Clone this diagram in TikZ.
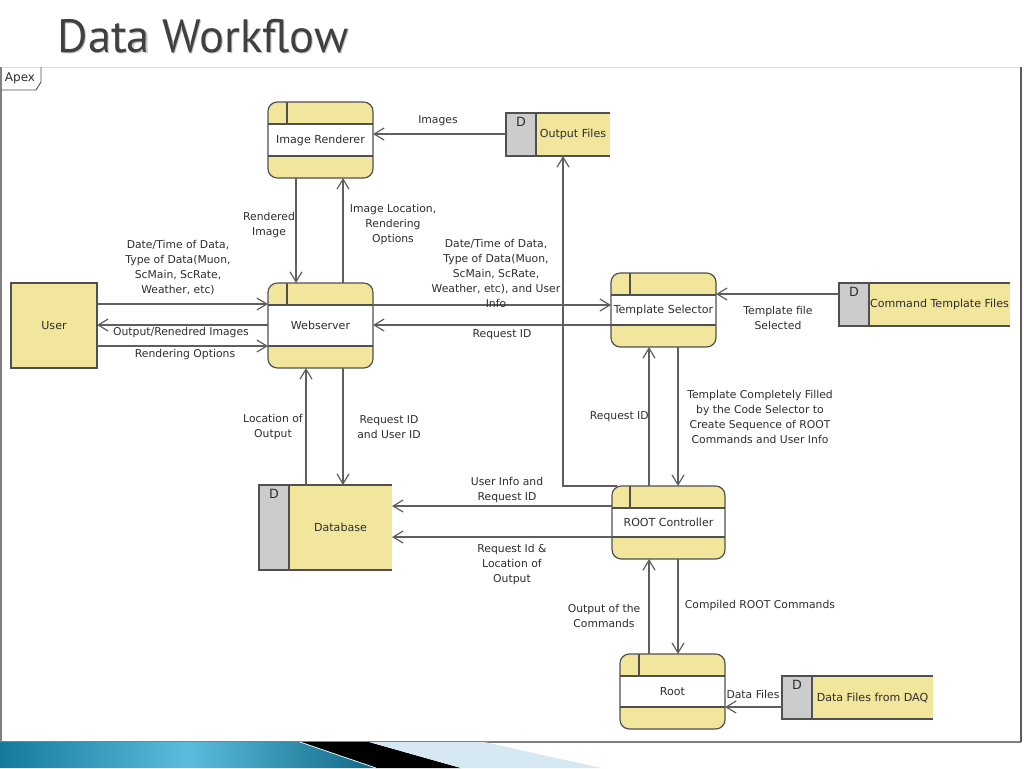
\documentclass[tikz,border=0pt]{standalone}
\usepackage{fontspec}
\setmainfont{DejaVu Sans}
\newfontfamily\titlefont{PT Sans}
\usetikzlibrary{arrows.meta}
\definecolor{yel}{HTML}{F2E59C}
\definecolor{gry}{HTML}{CCCCCC}
\definecolor{bdc}{HTML}{505050}
\definecolor{lnc}{HTML}{5F5F5F}
\definecolor{txc}{HTML}{2E2E2E}
\definecolor{ttc}{HTML}{404040}
\definecolor{teal1}{HTML}{137A9C}
\definecolor{teal2}{HTML}{5CBCDD}
\definecolor{lblue}{HTML}{D6E8F1}

\newcommand\procbox[7]{%
  \fill[yel, rounded corners=7pt] (#2,#3) rectangle (#4,#5);
  \fill[white] (#2,#3+22) rectangle (#4,#5-22);
  \draw[bd] (#2,#3+22) -- (#4,#3+22) (#2,#5-22) -- (#4,#5-22) (#6,#3) -- (#6,#3+22);
  \draw[bd, rounded corners=7pt] (#2,#3) rectangle (#4,#5);
  \node[box, ntxt, minimum width={(#4-#2)*0.75pt}, minimum height={(#5-#3)*0.75pt}] (#1) at ({(#2+#4)/2},{(#3+#5)/2}) {#7};
}
\newcommand\storebox[6]{%
  \fill[yel] (#2,#3) rectangle (#4,#5);
  \fill[gry] (#2,#3) rectangle (#2+30,#5);
  \draw[bd] (#4,#3) -- (#2,#3) -- (#2,#5) -- (#4,#5) (#2+30,#3) -- (#2+30,#5);
  \node[box, minimum width={(#4-#2)*0.75pt}, minimum height={(#5-#3)*0.75pt}] (#1) at ({(#2+#4)/2},{(#3+#5)/2}) {};
  \node[dtxt] (#1-d) at (#2+15,#3+9) {D};
  \node[ntxt] (#1-t) at ({(#2+30+#4)/2},{(#3+#5)/2}) {#6};
}

\begin{document}
\begin{tikzpicture}[x=0.75pt,y=-0.75pt,
  bd/.style={draw=bdc, line width=0.9pt},
  arr/.style={draw=lnc, line width=0.9pt, -{Straight Barb[length=7.5pt,width=9pt,line width=0.9pt]}},
  lbl/.style={font=\fontsize{8.1}{11.25}\selectfont, text=txc, align=center, inner sep=0pt},
  ntxt/.style={font=\fontsize{8.3}{10}\selectfont, text=txc, inner sep=0pt},
  dtxt/.style={font=\fontsize{9.5}{10}\selectfont, text=txc, inner sep=0pt},
  box/.style={inner sep=0pt, outer sep=0pt}]

\useasboundingbox (0,0) rectangle (1024,768);
\fill[white] (0,0) rectangle (1024,768);

% title
\node[font=\titlefont\fontsize{35}{40}\selectfont, text=gray!45] (titleshadow) at (204.2,37.2) {Data Workflow};
\node[font=\titlefont\fontsize{35}{40}\selectfont, text=ttc] (title) at (203,36) {Data Workflow};

% frame
\draw[draw=gray!25, line width=0.6pt] (1,67) -- (1021,67);
\draw[draw=gray, line width=1pt] (1,67) -- (1,742) -- (1021,742);
\draw[draw=gray!70!black, line width=2pt] (1021,67) -- (1021,742);
\draw[draw=bdc, line width=0.7pt] (41,67) -- (41,82) -- (36,90) -- (1,90);
\node[dtxt, font=\fontsize{9}{10}\selectfont] (apex) at (20,78) {Apex};

% bottom strip
\shade[left color=teal1, right color=teal1!85!black, middle color=teal2] (0,742) -- (300,742) -- (376,768) -- (0,768) -- cycle;
\fill[black] (300,742) -- (369,742) -- (461,768) -- (376,768) -- cycle;
\draw[white!85!teal2, line width=0.6pt] (300,742) -- (376,768);
\fill[lblue] (369,742) -- (484,742) -- (601,768) -- (461,768) -- cycle;

% process boxes
\procbox{ir}{268}{102}{373}{178}{287}{Image Renderer}
\procbox{ws}{268}{283}{373}{368}{287}{Webserver}
\procbox{ts}{611}{273}{716}{347}{630}{Template Selector}
\procbox{rc}{612}{486}{725}{559}{630}{ROOT Controller}
\procbox{rt}{620}{654}{725}{729}{639}{Root}

% data stores
\storebox{of}{506}{113}{610}{156}{Output Files}
\storebox{ct}{839}{283}{1010}{326}{Command Template Files}
\storebox{db}{259}{485}{392}{570}{Database}
\storebox{dq}{782}{676}{933}{719}{Data Files from DAQ}

% external entity
\node[box, ntxt, draw=bdc, line width=0.9pt, fill=yel, minimum width=64.5pt, minimum height=63.75pt] (user) at (54,325.5) {User};

% connectors
\draw[arr] (of.west |- 0,134) -- (ir.east |- 0,134);
\draw[arr] (ir.south -| 296,0) -- (ws.north -| 296,0);
\draw[arr] (ws.north -| 343,0) -- (ir.south -| 343,0);
\draw[arr] (user.east |- 0,304) -- (ws.west |- 0,304);
\draw[arr] (ws.west |- 0,325) -- (user.east |- 0,325);
\draw[arr] (user.east |- 0,346) -- (ws.west |- 0,346);
\draw[arr] (ws.east |- 0,305) -- (ts.west |- 0,305);
\draw[arr] (ts.west |- 0,325) -- (ws.east |- 0,325);
\draw[arr] (ct.west |- 0,294) -- (ts.east |- 0,294);
\draw[arr] (ts.south -| 678,0) -- (rc.north -| 678,0);
\draw[arr] (rc.north -| 649,0) -- (ts.south -| 649,0);
\draw[arr] ([xshift=4pt]rc.north west) -| (of.south -| 563,0);
\draw[arr] (ws.south -| 343,0) -- (db.north -| 343,0);
\draw[arr] (db.north -| 306,0) -- (ws.south -| 306,0);
\draw[arr] (rc.west |- 0,506) -- (db.east |- 0,506);
\draw[arr] (rc.west |- 0,537) -- (db.east |- 0,537);
\draw[arr] (rt.north -| 649,0) -- (rc.south -| 649,0);
\draw[arr] (rc.south -| 678,0) -- (rt.north -| 678,0);
\draw[arr] (dq.west |- 0,707) -- (rt.east |- 0,707);

% labels
\node[lbl] (l1) at (438,121) {Images};
\node[lbl] (l2) at (269,225) {Rendered\\Image};
\node[lbl] (l3) at (393,225) {Image Location,\\Rendering\\Options};
\node[lbl] (l4) at (178,267.5) {Date/Time of Data,\\Type of Data(Muon,\\ScMain, ScRate,\\Weather, etc)};
\node[lbl] (l5) at (181,333) {Output/Renedred Images};
\node[lbl] (l6) at (185,355) {Rendering Options};
\node[lbl] (l7) at (496,273) {Date/Time of Data,\\Type of Data(Muon,\\ScMain, ScRate,\\Weather, etc), and User\\Info};
\node[lbl] (l8) at (502,335) {Request ID};
\node[lbl] (l9) at (778,317.5) {Template file\\Selected};
\node[lbl] (l10) at (760,416.5) {Template Completely Filled\\by the Code Selector to\\Create Sequence of ROOT\\Commands and User Info};
\node[lbl, anchor=east] (l11) at (649,417) {Request ID};
\node[lbl] (l12) at (389,427) {Request ID\\and User ID};
\node[lbl] (l13) at (273,427) {Location of\\Output};
\node[lbl] (l14) at (507,490.5) {User Info and\\Request ID};
\node[lbl] (l15) at (512,565) {Request Id \&\\Location of\\Output};
\node[lbl] (l16) at (604,615.5) {Output of the\\Commands};
\node[lbl] (l17) at (760,606) {Compiled ROOT Commands};
\node[lbl] (l18) at (753,694) {Data Files};
\end{tikzpicture}
\end{document}
